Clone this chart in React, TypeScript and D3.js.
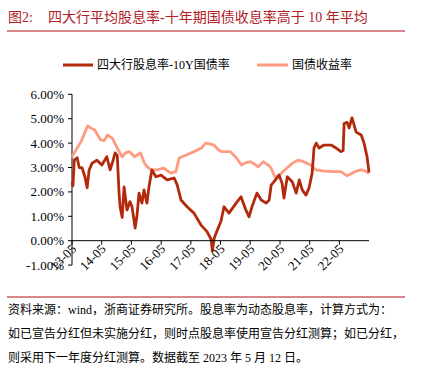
import React from "react";
import * as d3 from "d3";

const spreadDates = ["2013-05-13","2013-05-25","2013-06-10","2013-07-15","2013-08-10","2013-09-15","2013-10-20","2013-11-15","2013-12-10","2014-01-15","2014-03-15","2014-05-15","2014-07-15","2014-08-25","2014-10-01","2014-10-25","2014-11-20","2014-12-12","2014-12-25","2015-01-20","2015-02-12","2015-03-20","2015-04-25","2015-05-20","2015-06-28","2015-07-20","2015-08-15","2015-09-20","2015-10-15","2015-11-20","2015-12-15","2016-01-20","2016-03-10","2016-05-12","2016-07-25","2016-10-20","2016-11-25","2017-01-12","2017-03-28","2017-06-20","2017-09-15","2017-11-28","2018-01-18","2018-02-01","2018-02-25","2018-03-18","2018-05-18","2018-06-25","2018-08-25","2018-11-20","2019-01-20","2019-03-20","2019-04-28","2019-06-03","2019-08-03","2019-09-25","2019-11-25","2020-01-01","2020-01-25","2020-03-01","2020-05-01","2020-06-07","2020-07-01","2020-08-10","2020-10-10","2020-11-28","2021-01-05","2021-02-10","2021-03-28","2021-05-05","2021-06-12","2021-07-05","2021-08-01","2021-09-05","2021-11-05","2022-02-01","2022-04-01","2022-06-01","2022-06-28","2022-07-10","2022-08-15","2022-09-10","2022-10-15","2022-12-05","2023-02-05","2023-03-12","2023-04-18","2023-05-12"];
const spreadValues = [2.4,2.25,3.3,3.4,3.0,2.98,2.6,2.17,2.9,3.18,3.3,3.1,3.44,2.9,3.3,3.6,3.5,2.0,1.39,0.95,2.2,1.26,1.6,1.4,0.52,1.0,1.95,1.54,2.08,1.54,2.2,2.9,2.62,2.69,2.49,2.57,2.3,1.67,1.39,1.13,0.64,0.37,0.05,-0.42,0.11,0.3,0.8,1.39,1.13,1.54,1.8,1.26,0.98,1.39,1.95,1.67,1.54,1.67,2.28,2.42,2.69,2.36,1.75,2.62,2.42,1.95,2.49,2.08,1.87,2.16,2.77,3.8,4.0,3.8,3.92,3.92,3.8,3.65,3.7,4.8,4.85,4.62,5.03,4.45,4.33,4.0,3.45,2.8];

const bondDates = ["2013-05-13","2013-06-10","2013-09-01","2013-10-15","2013-11-20","2014-01-10","2014-02-15","2014-05-01","2014-06-10","2014-07-25","2014-09-20","2014-11-20","2015-01-20","2015-03-01","2015-04-20","2015-06-20","2015-09-01","2015-10-20","2015-11-25","2016-01-10","2016-03-25","2016-06-10","2016-09-10","2016-11-10","2016-12-20","2017-03-20","2017-06-20","2017-09-20","2017-11-10","2018-01-10","2018-02-20","2018-04-20","2018-05-25","2018-09-10","2018-11-25","2019-01-25","2019-03-25","2019-05-15","2019-08-20","2019-10-20","2019-12-20","2020-01-25","2020-03-10","2020-04-15","2020-07-10","2020-10-15","2020-12-20","2021-03-01","2021-05-25","2021-08-01","2021-11-05","2022-03-05","2022-06-01","2022-08-15","2022-12-05","2023-02-05","2023-04-01","2023-05-12"];
const bondValues = [3.44,3.6,4.06,4.4,4.7,4.6,4.54,4.13,4.1,4.33,4.2,3.8,3.44,3.6,3.65,3.44,3.6,3.18,3.03,2.9,2.9,2.98,2.77,2.83,3.39,3.51,3.65,3.8,4.0,3.96,3.92,3.72,3.65,3.65,3.39,3.1,3.2,3.24,3.03,3.24,3.1,2.98,2.62,2.62,2.9,3.18,3.3,3.24,3.1,2.9,2.85,2.83,2.83,2.66,2.85,2.9,2.85,2.75];

const yTicks = [-1, 0, 1, 2, 3, 4, 5, 6];
const xTickLabels = ["13-05","14-05","15-05","16-05","17-05","18-05","19-05","20-05","21-05","22-05"];
const xTickDates = ["2013-05-13","2014-05-13","2015-05-13","2016-05-13","2017-05-13","2018-05-13","2019-05-13","2020-05-13","2021-05-13","2022-05-13"];

const title = "图2:";
const titleMain = "四大行平均股息率-十年期国债收息率高于 10 年平均";
const legendLabels = ["四大行股息率-10Y国债率", "国债收益率"];
const footerLines = [
  "资料来源：wind，浙商证券研究所。股息率为动态股息率，计算方式为：",
  "如已宣告分红但未实施分红，则时点股息率使用宣告分红测算；如已分红，",
  "则采用下一年度分红测算。数据截至 2023 年 5 月 12 日。",
];

const DARK = "#B3290C";
const LIGHT = "#FF9B80";
const FONT = "'Liberation Serif', 'Times New Roman', 'Noto Sans CJK SC', serif";

export default function App() {
  const W = 421, H = 377;
  const parse = d3.timeParse("%Y-%m-%d");
  const x = d3.scaleTime()
    .domain([parse("2013-05-13")!, parse("2023-05-12")!])
    .range([72, 369]);
  const y = d3.scaleLinear().domain([-1, 6]).range([265.1, 94.3]);

  const spread = spreadDates.map((d, i) => ({ d: parse(d)!, v: spreadValues[i] }));
  const bond = bondDates.map((d, i) => ({ d: parse(d)!, v: bondValues[i] }));
  const line = d3.line<{ d: Date; v: number }>().x((p) => x(p.d)).y((p) => y(p.v));

  const y0 = y(0);

  return (
    <svg width={W} height={H} style={{ position: "absolute", left: 0, top: 0, background: "#fff" }} fontFamily={FONT}>
      <rect width={W} height={H} fill="#fff" />
      <text x={8} y={22} fontSize={14} fill="#B02025">{title}</text>
      <text x={48} y={22} fontSize={14} fill="#B02025">{titleMain}</text>
      <line x1={7} x2={405} y1={31} y2={31} stroke="#B00F14" strokeWidth={1} />

      {/* legend */}
      <line x1={63} x2={93} y1={65} y2={65} stroke={DARK} strokeWidth={3} />
      <text x={97} y={69} fontSize={12} fill="#000">{legendLabels[0]}</text>
      <line x1={257} x2={288} y1={65} y2={65} stroke={LIGHT} strokeWidth={3} />
      <text x={292} y={69} fontSize={12} fill="#000">{legendLabels[1]}</text>

      {/* y axis */}
      <line x1={72} x2={72} y1={y(6)} y2={y(-1)} stroke="#000" strokeWidth={1} />
      {yTicks.map((t) => (
        <g key={t}>
          <line x1={68} x2={72} y1={y(t)} y2={y(t)} stroke="#000" strokeWidth={1} />
          <text x={64} y={y(t) + 4.5} fontSize={13} textAnchor="end" fill="#000">
            {t.toFixed(2) + "%"}
          </text>
        </g>
      ))}

      {/* series */}
      <path d={line(bond) || ""} fill="none" stroke={LIGHT} strokeWidth={2.8} strokeLinejoin="round" />
      <path d={line(spread) || ""} fill="none" stroke={DARK} strokeWidth={2.8} strokeLinejoin="round" />

      {/* x axis */}
      <line x1={72} x2={369} y1={y0} y2={y0} stroke="#000" strokeWidth={1} />
      {xTickDates.map((d, i) => {
        const xx = x(parse(d)!);
        return (
          <g key={d}>
            <line x1={xx} x2={xx} y1={y0} y2={y0 + 4} stroke="#000" strokeWidth={1} />
            <text
              transform={`translate(${xx + 5},${y0 + 9}) rotate(-45)`}
              fontSize={13}
              textAnchor="end"
              fill="#000"
            >
              {xTickLabels[i]}
            </text>
          </g>
        );
      })}

      {/* footer */}
      <line x1={7} x2={405} y1={297} y2={297} stroke="#B00F14" strokeWidth={1} />
      {footerLines.map((l, i) => (
        <text key={i} x={8} y={314 + i * 24} fontSize={12} fill="#000">{l}</text>
      ))}
    </svg>
  );
}
